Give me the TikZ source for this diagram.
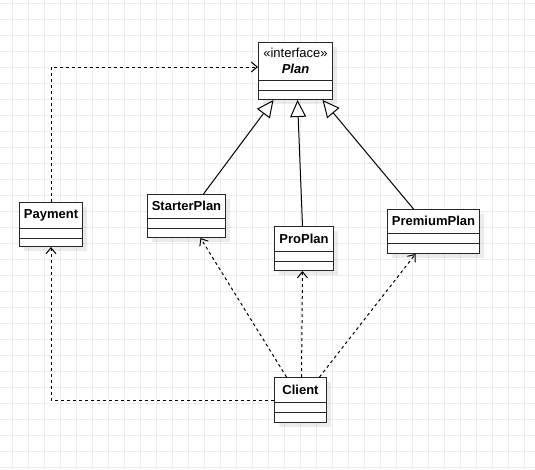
\documentclass[tikz,border=0pt]{standalone}
\usepackage{fontspec}
\setmainfont{Liberation Sans}
\usetikzlibrary{arrows.meta,calc,shadows}

\tikzset{
  gridline/.style={draw=black!7, line width=0.6pt},
  classbox/.style={draw=black!85, line width=1pt, fill=white, inner sep=0pt,
    drop shadow={shadow xshift=4pt, shadow yshift=-4pt, fill=black, opacity=0.08}},
  classline/.style={draw=black!85, line width=1pt},
  classname/.style={font=\fontsize{13}{15}\selectfont\bfseries, inner sep=0pt, align=center},
  dep/.style={draw=black, line width=1pt, dash pattern=on 3pt off 3pt,
    -{Straight Barb[length=6pt, width=10pt, line width=1pt]}},
  real/.style={draw=black, line width=1pt,
    -{Triangle[length=17pt, width=16pt, fill=white, line width=1pt]}}
}

% one class: name, left, top, width, height, header height, title
\newcommand{\umlclass}[7]{%
  \node[classbox, minimum width=#4pt, minimum height=#5pt, anchor=north west] (#1) at (#2,#3) {};
  \draw[classline] ($(#1.north west)+(0,#6)$) -- ($(#1.north east)+(0,#6)$);
  \draw[classline] ($(#1.north west)+(0,#6+10)$) -- ($(#1.north east)+(0,#6+10)$);
  \node[classname] (#1-name) at ($(#1.north)+(0,#6/2)$) {#7};
}

\begin{document}
\begin{tikzpicture}[x=1pt, y=-1pt]
  \useasboundingbox (0,0) rectangle (535,469);
  \fill[white] (0,0) rectangle (535,469);

  % background grid
  \foreach \gx in {12,28,...,524} \draw[gridline] (\gx,0) -- (\gx,469);
  \foreach \gy in {3,19,...,467} \draw[gridline] (0,\gy) -- (535,\gy);

  % classes
  \umlclass{plan}{258}{42}{74}{57}{38}{\fontsize{13}{15}\selectfont\mdseries «interface»\\[1pt]\itshape\bfseries Plan}
  \umlclass{payment}{19}{202}{63}{44}{26}{Payment}
  \umlclass{starter}{147}{194}{78}{43}{24}{StarterPlan}
  \umlclass{pro}{274}{226}{59}{44}{25}{ProPlan}
  \umlclass{premium}{387}{209}{92}{44}{24}{PremiumPlan}
  \umlclass{client}{274}{377}{52}{45}{25}{Client}

  % realizations of the interface
  \draw[real] ([xshift=17pt]starter.north) -- ([xshift=-22pt]plan.south);
  \draw[real] ([xshift=-1.5pt]pro.north) -- ([xshift=2pt]plan.south);
  \draw[real] ([xshift=-20pt]premium.north) -- ([xshift=27pt]plan.south);

  % dependencies
  \draw[dep] (payment.north) |- ([yshift=4pt]plan.west);
  \draw[dep] (client.west) -| (payment.south);
  \draw[dep] ([xshift=-14pt]client.north) -- ([xshift=14pt]starter.south);
  \draw[dep] ([xshift=1pt]client.north) -- ([xshift=-1.5pt]pro.south);
  \draw[dep] ([xshift=19pt]client.north) -- ([xshift=-18pt]premium.south);
\end{tikzpicture}
\end{document}
